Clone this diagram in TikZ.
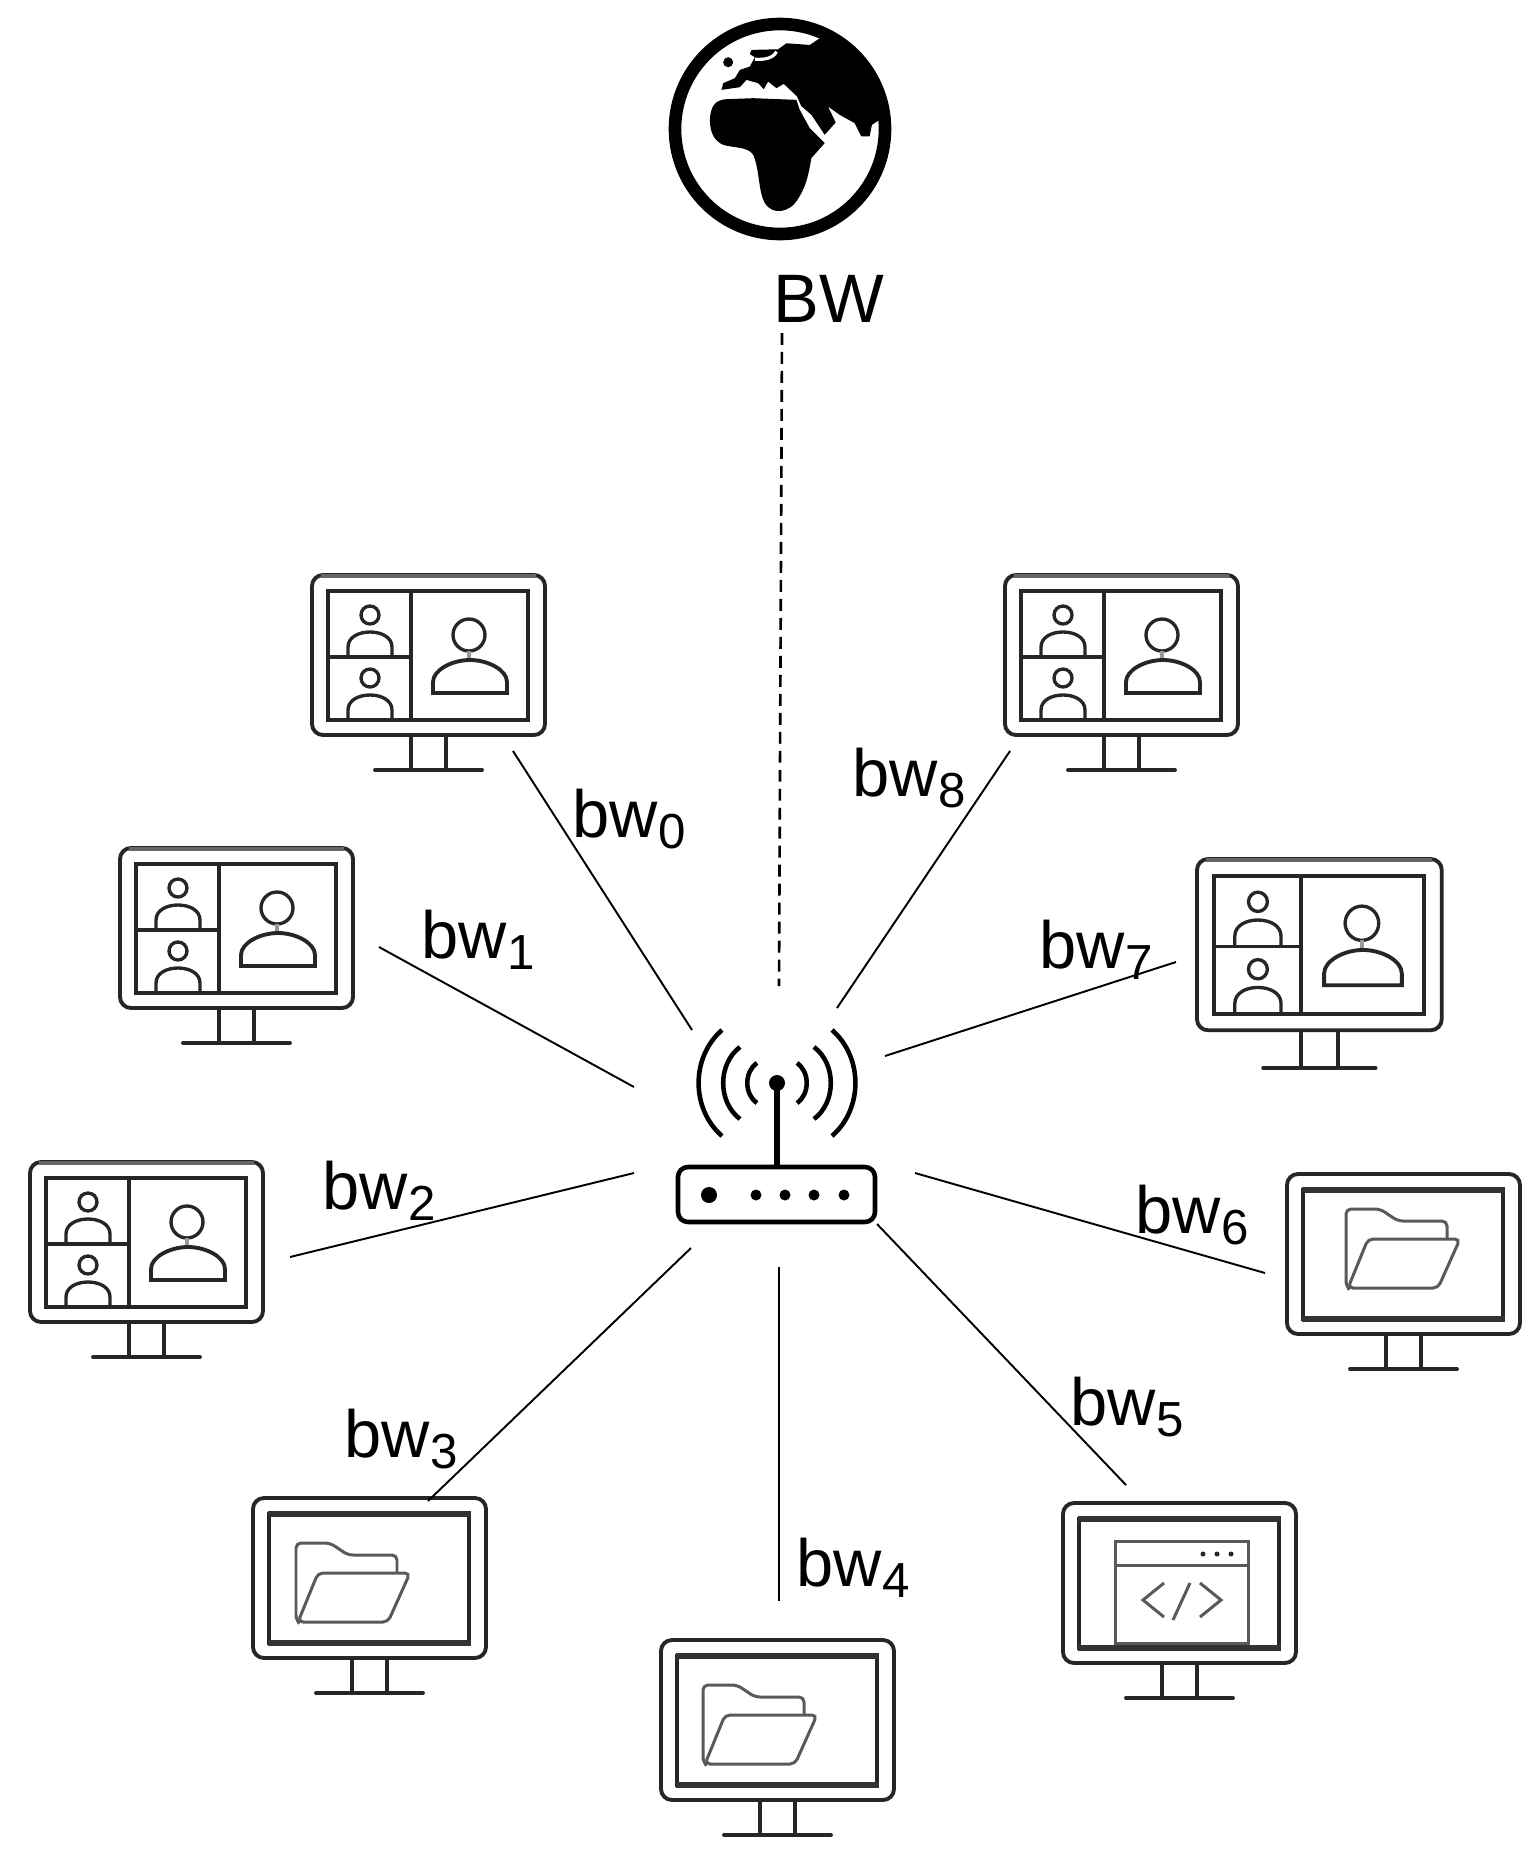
\documentclass[tikz,border=0pt]{standalone}
\usepackage{fontspec}
\setmainfont{Liberation Sans}
\newcommand{\bwsub}[1]{\raisebox{-3.3pt}{\fontsize{14}{14}\selectfont #1}}
\tikzset{
    monitor/.pic={
        \draw[icon line,rounded corners=1.1mm] (0,0) rectangle (233,160);
        \draw[icon line] (99,160) -- (99,195) (134,160) -- (134,195);
        \draw[icon line,line cap=round] (63,195) -- (170,195);
    },
    video monitor/.pic={
        \pic {monitor};
        \draw[black!60,line width=1.3pt] (9,1) -- (224,1);
        \draw[icon line] (16,16) rectangle (216,145);
        \draw[thin icon] (99,16) -- (99,145) (16,82) -- (99,82);
        % two small people on the left
        \foreach \ya in {0,63} {
            \draw[thin icon] (58,40+\ya) circle (9);
            \draw[thin icon] (36,82+\ya) -- (36,72+\ya) .. controls (36,62+\ya) and (47,57+\ya) .. (58,57+\ya)
                .. controls (69,57+\ya) and (80,62+\ya) .. (80,72+\ya) -- (80,82+\ya);
        }
        % one big person on the right
        \draw[thin icon] (157,60) circle (16);
        \draw[black!40,line width=0.9pt] (157,76) -- (157,85);
        \draw[thin icon,line width=1.1pt] (121,118) -- (121,107) .. controls (121,95) and (140,85) .. (158,85)
            .. controls (176,85) and (195,95) .. (195,107) -- (195,118) -- cycle;
    },
    screen frame/.pic={
        \draw[icon line] (16,16) rectangle (216,145);
        \draw[thick frame] (14.5,16) -- (217.5,16) (14.5,145) -- (217.5,145);
    },
    pics/folder monitor/.style 2 args={code={
        \pic {monitor};
        \pic {screen frame};
        \begin{scope}[shift={(#1,#2)}]
            \draw[folder line,rounded corners=0.5mm] (61,114) -- (59,112) -- (59,35) -- (93,35) -- (111,47) -- (160,47) -- (160,65);
            \draw[folder line,rounded corners=0.5mm] (61,114) -- (81,65) -- (173,65) -- (151,114) -- cycle;
        \end{scope}
    }},
    code monitor/.pic={
        \pic {monitor};
        \pic {screen frame};
        \draw[folder line] (52,140) -- (52,38) -- (185,38) -- (185,140) -- cycle;
        \draw[folder line] (52,62) -- (185,62);
        \foreach \xa in {140,154,168}
            \fill[icon] (\xa,51) circle (2.5);
        \draw[folder line] (101,80) -- (80,97) -- (101,114);
        \draw[folder line] (127,80) -- (110,117);
        \draw[folder line] (137,80) -- (158,97) -- (137,114);
    },
}
\begin{document}
\begin{tikzpicture}[
        x=0.01cm, y=-0.01cm,
        icon/.style={black!85},
        icon line/.style={draw=black!85,line width=1.1pt},
        thin icon/.style={draw=black!85,line width=0.95pt},
        thick frame/.style={draw=black!80,line width=1.7pt},
        folder line/.style={draw=black!65,line width=0.85pt},
        link/.style={draw,line width=0.55pt,-},
        uplink/.style={draw,line width=0.75pt,dash pattern=on 3.4pt off 2pt},
        bw label/.style={anchor=base west,inner sep=0pt,font=\fontsize{19}{19}\selectfont},
    ]
    \useasboundingbox (0,0) rectangle (1538,1866);

    % First we draw the globe
    \draw[line width=3.6pt] (780,129) circle (105);
    \begin{scope}[shift={(640,0)},x=0.00333cm,y=-0.00333cm]
        \fill[line join=round] (210,360) .. controls (212,320) and (225,300) .. (260,298)
            -- (340,295) -- (470,300) -- (480,330) -- (510,385) -- (555,430) -- (515,475)
            .. controls (505,530) and (500,560) .. (470,605) .. controls (450,635) and (400,650) .. (375,610)
            .. controls (355,575) and (360,510) .. (340,465) .. controls (325,440) and (280,445) .. (250,435)
            .. controls (225,425) and (210,400) .. (210,360) -- cycle;
        \fill[line join=round] (540,115) -- (510,135) -- (440,130) -- (415,148) -- (335,150) -- (330,162)
            -- (345,172) -- (330,200) -- (300,210)
            -- (285,235) -- (250,250) -- (245,270) -- (300,262) -- (320,240) -- (355,250) -- (372,268)
            -- (385,245) -- (410,265) -- (432,252) -- (472,290) -- (484,318) -- (515,345) -- (555,405)
            -- (588,368) -- (565,320) -- (600,345) -- (645,370) -- (665,410) -- (690,410) -- (697,375)
            -- (720,360) -- (745,360) -- (720,240) -- (650,150) -- cycle;
        \fill (265,187) circle (15);
        \draw[white,line width=0.9pt] (410,155) .. controls (400,175) and (375,180) .. (345,178);
    \end{scope}
    \node[bw label,font=\fontsize{19.5}{19.5}\selectfont] (BW) at (773,322) {BW};

    % Then the monitors
    \foreach \pos/\name in {
            {(312,575)/mon0}, {(120,848)/mon1}, {(30,1162)/mon2}, {(1005,575)/mon8}}
        \pic (\name) at \pos {video monitor};
    \begin{scope}[shift={(1197,859)},x=0.0105cm,y=-0.0107cm]
        \pic (mon7) {video monitor};
    \end{scope}
    \pic (mon3) at (253,1498) {folder monitor={-16}{10}};
    \pic (mon4) at (661,1640) {folder monitor={-17}{10}};
    \pic (mon6) at (1287,1174) {folder monitor={0}{0}};
    \pic (mon5) at (1063,1503) {code monitor};

    % The router with its antenna
    \draw[line width=1.3pt,rounded corners=1mm] (678,1167) rectangle (875,1222);
    \draw[line width=1.7pt] (777,1083) -- (777,1167);
    \fill (777,1083) circle (8) (709,1195) circle (8);
    \foreach \xa in {756,785,814,844}
        \fill (\xa,1195) circle (5.5);
    \foreach \xa/\ya/\ang in {
            722/1030/49, 740/1047/53, 757/1063/56}
        \draw[line width=1.3pt] (\xa,\ya) to[bend right=\ang] (\xa,2166-\ya)
            (1554-\xa,\ya) to[bend left=\ang] (1554-\xa,2166-\ya);

    % Named ends of the links
    \coordinate (dev0) at (513,751);
    \coordinate (dev1) at (379,947);
    \coordinate (dev2) at (290,1257);
    \coordinate (dev3) at (428,1501);
    \coordinate (dev4) at (779,1601);
    \coordinate (dev5) at (1126,1485);
    \coordinate (dev6) at (1265,1273);
    \coordinate (dev7) at (1176,962);
    \coordinate (dev8) at (1010,751);
    \coordinate (rtr0) at (692,1030);
    \coordinate (rtr1) at (634,1087);
    \coordinate (rtr2) at (634,1173);
    \coordinate (rtr3) at (691,1248);
    \coordinate (rtr4) at (779,1267);
    \coordinate (rtr5) at (877,1224);
    \coordinate (rtr6) at (915,1173);
    \coordinate (rtr7) at (885,1056);
    \coordinate (rtr8) at (837,1008);
    \coordinate (rtrtop) at (779,986);
    \coordinate (bwfoot) at (782,333);
    % Connect them
    \draw[link] (dev0) -- (rtr0);
    \draw[link] (dev1) -- (rtr1);
    \draw[link] (dev2) -- (rtr2);
    \draw[link] (dev3) -- (rtr3);
    \draw[link] (dev4) -- (rtr4);
    \draw[link] (dev5) -- (rtr5);
    \draw[link] (dev6) -- (rtr6);
    \draw[link] (dev7) -- (rtr7);
    \draw[link] (dev8) -- (rtr8);
    \draw[uplink] (bwfoot) -- (rtrtop);

    % Labels of the links
    \foreach \pos/\name/\num in {
            {(572,837)/bw0/0}, {(421,958)/bw1/1}, {(322,1209)/bw2/2}, {(344,1457)/bw3/3}, {(796,1586)/bw4/4},
            {(1070,1425)/bw5/5}, {(1135,1233)/bw6/6}, {(1039,968)/bw7/7}, {(852,796)/bw8/8}}
        \node[bw label] (\name) at \pos {bw\bwsub{\num}};
\end{tikzpicture}
\end{document}
